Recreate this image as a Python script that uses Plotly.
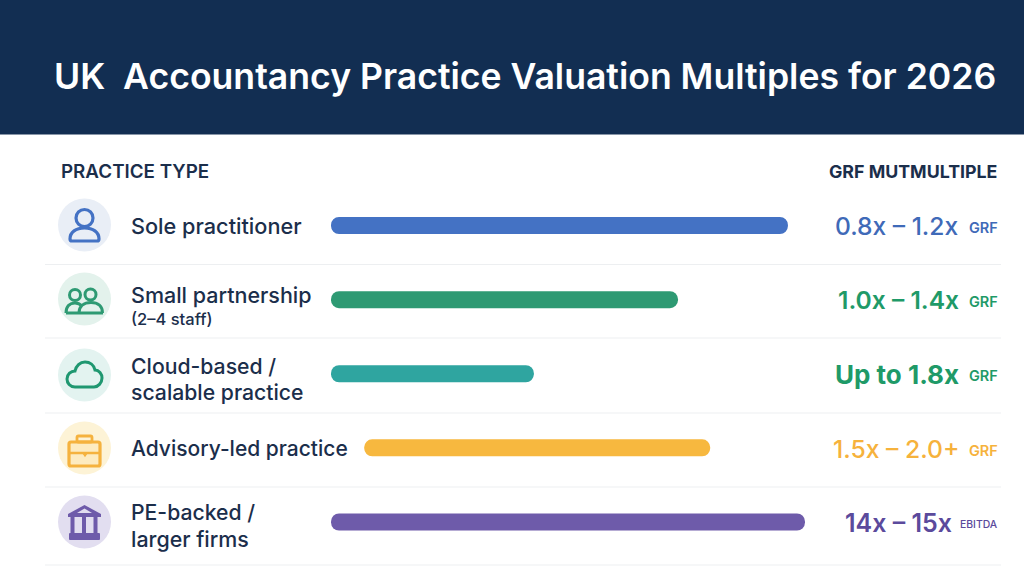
import plotly.graph_objects as go

W, H = 1024, 572
FONT = "Inter"
INK = "#1B2E4B"
NAVY = "#122E52"
RULE = "#EDEFF1"

TITLE = "UK  Accountancy Practice Valuation Multiples for 2026"
HEAD_LEFT = "PRACTICE TYPE"
HEAD_RIGHT = "GRF MUTMULTIPLE"

# Row names, drawn line by line as (text, size, y centre)
practice_keys = ["Sole", "Small", "Cloud", "Advisory", "PE"]
practice_lines = [
    [("Sole practitioner", 21.7, 226)],
    [("Small partnership", 21.5, 295), ("(2–4 staff)", 16.5, 319)],
    [("Cloud-based /", 21.2, 366), ("scalable practice", 21.2, 392)],
    [("Advisory-led practice", 21, 448)],
    [("PE-backed /", 21.2, 512), ("larger firms", 21.4, 539)],
]
# Bar extents on a 0-100 relative scale
bar_start = [0, 0, 0, 7, 0]
bar_end = [96.4, 73.2, 42.8, 80, 100]
bar_colours = ["#4472C4", "#2E9A73", "#2FA5A0", "#F7B83F", "#6E5BAA"]
value_colours = ["#3F6AB8", "#1F9A68", "#1F9A68", "#F6B23C", "#5B4A9C"]
value_labels = ["0.8x – 1.2x", "1.0x – 1.4x", "Up to 1.8x", "1.5x – 2.0+", "14x – 15x"]
value_sizes = [24.6, 24.6, 26, 24.7, 25]
value_weights = [500, 600, 700, 500, 600]
value_right = [958, 959, 959, 959, 952]
unit_labels = ["GRF", "GRF", "GRF", "GRF", "EBITDA"]
row_y = [225, 299, 373, 448, 522]
disc_fill = ["#E9EEF6", "#E3F2EC", "#E3F3F0", "#FDF3D6", "#E2DEF0"]
disc_y = [225, 299, 375, 448, 522]
rule_y = [264.5, 338, 413, 487, 565]


def px(x):
    return x / W


def py(y):
    return 1 - y / H


def path(d, stroke=None, fill="rgba(0,0,0,0)", width=2.6):
    """Icon outline given in page pixels, converted to paper coordinates."""
    out = []
    for tok in d.split():
        if tok.isalpha():
            out.append(tok)
        else:
            a, b = tok.split(",")
            out.append(f"{px(float(a)):.5f},{py(float(b)):.5f}")
    return dict(
        type="path", xref="paper", yref="paper", path=" ".join(out),
        line=dict(color=stroke or "rgba(0,0,0,0)", width=width if stroke else 0),
        fillcolor=fill, layer="above",
    )


def circle(cx, cy, r, fill="rgba(0,0,0,0)", stroke=None, width=2.6):
    return dict(
        type="circle", xref="paper", yref="paper",
        x0=px(cx - r), x1=px(cx + r), y0=py(cy + r), y1=py(cy - r),
        fillcolor=fill, layer="above",
        line=dict(color=stroke or "rgba(0,0,0,0)", width=width if stroke else 0),
    )


def rounded(x0, y0, x1, y1, r):
    return (f"M {x0+r},{y0} L {x1-r},{y0} Q {x1},{y0} {x1},{y0+r} L {x1},{y1-r} "
            f"Q {x1},{y1} {x1-r},{y1} L {x0+r},{y1} Q {x0},{y1} {x0},{y1-r} "
            f"L {x0},{y0+r} Q {x0},{y0} {x0+r},{y0} Z")


shapes = [
    dict(type="rect", xref="paper", yref="paper", x0=0, x1=1, y0=py(134.5), y1=1,
         fillcolor=NAVY, line=dict(width=0), layer="below"),
]
for y in rule_y:
    shapes.append(dict(type="line", xref="paper", yref="paper", x0=px(45), x1=px(1001),
                       y0=py(y), y1=py(y), line=dict(color=RULE, width=1), layer="below"))
for y, c in zip(disc_y, disc_fill):
    shapes.append(circle(84.5, y, 26.5, fill=c))

# Person icon
BLUE = "#4472C4"
shapes += [
    circle(84.5, 218, 8.5, stroke=BLUE, width=3.2),
    path("M 70,239 C 70,232 76,228 84.5,228 C 93,228 99,232 99,239 Q 99,241 97,241 L 72,241 Q 70,241 70,239 Z",
         stroke=BLUE, width=3.2),
]
# Two people icon
GREEN = "#2E9A73"
shapes += [
    circle(75, 295, 5.5, stroke=GREEN, width=3),
    circle(90.5, 294.5, 5.5, stroke=GREEN, width=3),
    path("M 66,313 C 66,306 70,303 75,303 C 78,303 80,304 82,306 M 66,313 L 103,313", stroke=GREEN, width=3),
    path("M 79,313 C 79,306 84,302.5 91,302.5 C 98,302.5 102.5,306 102.5,313", stroke=GREEN, width=3),
]
# Cloud icon
shapes.append(path(
    "M 75,387 C 70,387 67,383 67,379 C 67,374 71,371 75,371 C 76,366 80,362 85,362 "
    "C 90,362 94,365 95,370 C 99,370 102,374 102,378 C 102,383 98,387 94,387 Z",
    stroke="#1F9770", width=3))
# Briefcase icon
AMBER = "#F5B23E"
shapes += [
    path(rounded(69, 442, 100, 466, 2), stroke=AMBER, fill="#FDEBC0", width=3.2),
    path(rounded(77, 436, 92, 442, 1.5), stroke=AMBER, width=2.8),
    path("M 69,453 L 100,453", stroke=AMBER, width=2.6),
    path("M 83,453 L 87,453 L 85,456 Z", stroke=AMBER, width=1.5),
]
# Institution icon
PURPLE = "#6E5BAA"
shapes += [
    path("M 84.5,505 L 101,514 L 101,517 L 68,517 L 68,514 Z", fill=PURPLE),
    path("M 84.5,508.5 L 92,513 L 77,513 Z", fill="#E2DEF0"),
    path("M 72.5,517 L 72.5,533", stroke=PURPLE, width=4),
    path("M 84,517 L 84,533", stroke=PURPLE, width=4),
    path("M 95.5,517 L 95.5,533", stroke=PURPLE, width=4),
    path(rounded(69, 533, 100, 540, 1), fill=PURPLE),
]

annotations = []


def note(x, y, text, size, colour, anchor="left", weight=500):
    annotations.append(dict(
        xref="paper", yref="paper", x=px(x), y=py(y), text=text, showarrow=False,
        xanchor=anchor, yanchor="middle", align=anchor, borderpad=0, borderwidth=0,
        font=dict(family=FONT, size=size, color=colour, weight=weight),
    ))


note(54, 76, TITLE, 35.6, "#FFFFFF", weight=600)
note(61, 172, HEAD_LEFT, 18.8, INK, weight=600)
note(997, 172, HEAD_RIGHT, 17.8, INK, anchor="right", weight=700)

for lines in practice_lines:
    for text, size, y in lines:
        note(131, y, text, size, INK)
for i, y in enumerate(row_y):
    note(value_right[i], y + 1, value_labels[i], value_sizes[i], value_colours[i],
         anchor="right", weight=value_weights[i])
    if unit_labels[i] == "GRF":
        note(997.5, y + 2, unit_labels[i], 14.5, value_colours[i], anchor="right", weight=600)
    else:
        note(998, y + 2, unit_labels[i], 10.4, value_colours[i], anchor="right", weight=500)

fig = go.Figure(go.Bar(
    y=practice_keys,
    x=[e - s for s, e in zip(bar_start, bar_end)],
    base=bar_start,
    orientation="h",
    marker=dict(color=bar_colours, line=dict(width=0)),
    hoverinfo="skip",
))
fig.update_layout(
    width=W, height=H, autosize=False,
    margin=dict(l=0, r=0, t=0, b=0, pad=0),
    paper_bgcolor="#FFFFFF", plot_bgcolor="rgba(0,0,0,0)",
    showlegend=False, bargap=0.77, barcornerradius=8,
    xaxis=dict(domain=[px(331), px(805)], range=[0, 100], visible=False, fixedrange=True),
    yaxis=dict(domain=[py(559), py(188.5)], autorange=False, range=[4.5, -0.5],
               visible=False, fixedrange=True),
    shapes=shapes, annotations=annotations,
)
fig.write_html("out.html", config=dict(displayModeBar=False))
